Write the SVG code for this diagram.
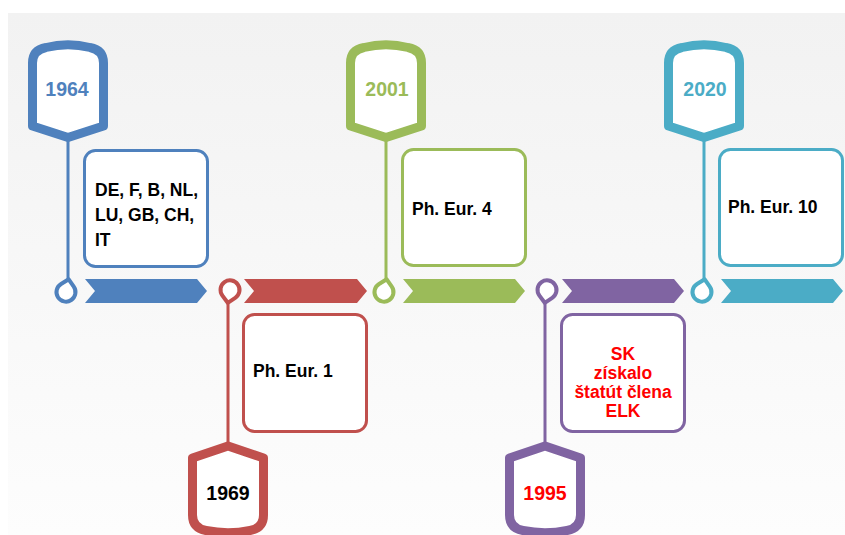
<svg xmlns="http://www.w3.org/2000/svg" width="845" height="535" viewBox="0 0 845 535">
  <defs>
    <linearGradient id="bg" x1="0" y1="0" x2="0" y2="1">
      <stop offset="0" stop-color="#f2f2f2"/>
      <stop offset="1" stop-color="#fdfdfd"/>
    </linearGradient>
    <path id="drop" d="M0,-13 L6.5,-6.8 A9.5 9.5 0 1 1 -6.5,-6.8 Z"/>
  </defs>
  <style>
    text { font-family: "Liberation Sans", Arial, sans-serif; font-weight: bold; }
    .tag { fill: #ffffff; stroke-width: 9; stroke-linejoin: round; }
    .box { fill: #ffffff; stroke-width: 3; }
    .stem { stroke-width: 3; fill: none; }
    .loop { fill: #ffffff; stroke-width: 4; stroke-linejoin: round; }
    .year { font-size: 19.5px; text-anchor: middle; }
    .lbl { font-size: 17.5px; fill: #000000; }
    .blue { stroke: #4f81bd; }
    .red { stroke: #c0504d; }
    .green { stroke: #9bbb59; }
    .purple { stroke: #8064a2; }
    .teal { stroke: #4bacc6; }
  </style>
  <rect x="8" y="13" width="837" height="522" fill="url(#bg)"/>

  <g id="connectors">
    <line class="stem blue" x1="68" y1="140" x2="68" y2="281"/>
    <line class="stem red" x1="228" y1="301" x2="228" y2="446"/>
    <line class="stem green" x1="386" y1="140" x2="386" y2="281"/>
    <line class="stem purple" x1="545" y1="301" x2="545" y2="446"/>
    <line class="stem teal" x1="704" y1="140" x2="704" y2="281"/>
    <path fill="#4f81bd" d="M85,279 L197,279 L207,291 L197,303 L85,303 L95,291 Z"/>
    <path fill="#c0504d" d="M244,279 L357,279 L367,291 L357,303 L244,303 L254,291 Z"/>
    <path fill="#9bbb59" d="M403,279 L515,279 L525,291 L515,303 L403,303 L413,291 Z"/>
    <path fill="#8064a2" d="M562,279 L674,279 L684,291 L674,303 L562,303 L572,291 Z"/>
    <path fill="#4bacc6" d="M721,279 L833,279 L843,291 L833,303 L721,303 L731,291 Z"/>
    <use href="#drop" class="loop blue" transform="translate(66,292) rotate(12)"/>
    <use href="#drop" class="loop red" transform="translate(230,290) rotate(190)"/>
    <use href="#drop" class="loop green" transform="translate(384,292) rotate(12)"/>
    <use href="#drop" class="loop purple" transform="translate(547,290) rotate(190)"/>
    <use href="#drop" class="loop teal" transform="translate(702,292) rotate(12)"/>
  </g>

  <g id="tag1964">
    <path class="tag blue" d="M32.5,126 L32.5,63 Q32.5,50 46,47.5 Q68,42 90,47.5 Q103.5,50 103.5,63 L103.5,126 L68,137.5 Z"/>
    <text class="year" x="67" y="96" fill="#4f81bd">1964</text>
  </g>
  <g id="box1964">
    <rect class="box blue" x="84.5" y="150.5" width="123" height="116" rx="11"/>
    <text class="lbl" x="95" y="196">DE, F, B, NL,</text>
    <text class="lbl" x="95" y="221">LU, GB, CH,</text>
    <text class="lbl" x="95" y="246">IT</text>
  </g>

  <g id="tag1969">
    <path class="tag red" d="M228,446 L263.5,458 L263.5,515 Q263.5,528 250,530.5 Q228,535 206,530.5 Q192.5,528 192.5,515 L192.5,458 Z"/>
    <text class="year" x="228" y="500" fill="#000000">1969</text>
  </g>
  <g id="box1969">
    <rect class="box red" x="243.5" y="314.5" width="123" height="117" rx="11"/>
    <text class="lbl" x="253" y="377">Ph. Eur. 1</text>
  </g>

  <g id="tag2001">
    <path class="tag green" d="M350.5,126 L350.5,63 Q350.5,50 364,47.5 Q386,42 408,47.5 Q421.5,50 421.5,63 L421.5,126 L386,137.5 Z"/>
    <text class="year" x="387" y="96" fill="#9bbb59">2001</text>
  </g>
  <g id="box2001">
    <rect class="box green" x="402.5" y="149.5" width="123" height="116" rx="11"/>
    <text class="lbl" x="412" y="215">Ph. Eur. 4</text>
  </g>

  <g id="tag1995">
    <path class="tag purple" d="M545,446 L580.5,458 L580.5,515 Q580.5,528 567,530.5 Q545,535 523,530.5 Q509.5,528 509.5,515 L509.5,458 Z"/>
    <text class="year" x="545" y="500" fill="#ff0000">1995</text>
  </g>
  <g id="box1995">
    <rect class="box purple" x="561.5" y="314.5" width="123" height="117" rx="11"/>
    <text class="lbl" x="623" y="360" text-anchor="middle" style="fill:#ff0000">SK</text>
    <text class="lbl" x="623" y="379" text-anchor="middle" style="fill:#ff0000">získalo</text>
    <text class="lbl" x="623" y="398" text-anchor="middle" style="fill:#ff0000">štatút člena</text>
    <text class="lbl" x="623" y="417" text-anchor="middle" style="fill:#ff0000">ELK</text>
  </g>

  <g id="tag2020">
    <path class="tag teal" d="M668.5,126 L668.5,63 Q668.5,50 682,47.5 Q704,42 726,47.5 Q739.5,50 739.5,63 L739.5,126 L704,137.5 Z"/>
    <text class="year" x="705" y="96" fill="#4bacc6">2020</text>
  </g>
  <g id="box2020">
    <rect class="box teal" x="719.5" y="149.5" width="123" height="116" rx="11"/>
    <text class="lbl" x="728" y="213">Ph. Eur. 10</text>
  </g>
</svg>
